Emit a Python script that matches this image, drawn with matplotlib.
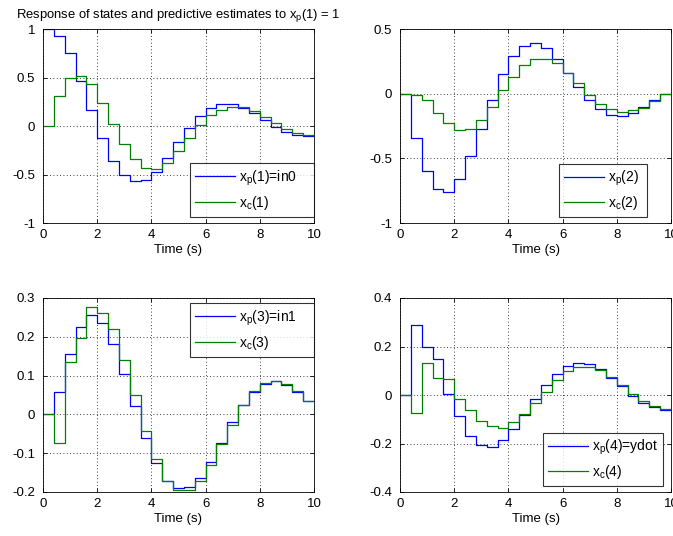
import numpy as np
import matplotlib
matplotlib.use("Agg")
import matplotlib.pyplot as plt
from matplotlib.ticker import FuncFormatter, MultipleLocator

plt.rcParams['font.family'] = ['Liberation Sans', 'DejaVu Sans']
plt.rcParams['mathtext.fontset'] = 'custom'
plt.rcParams['mathtext.rm'] = 'Liberation Sans'
plt.rcParams['mathtext.it'] = 'Liberation Sans'
plt.rcParams['font.size'] = 9.5

t = np.arange(26) * 0.4

xp1 = [1.0, 0.93, 0.75, 0.46, 0.17, -0.12, -0.36, -0.51, -0.57, -0.56, -0.47, -0.33, -0.17,
       -0.02, 0.10, 0.19, 0.23, 0.23, 0.19, 0.13, 0.06, -0.01, -0.06, -0.09, -0.10, -0.10]
xc1 = [0, 0.31, 0.49, 0.52, 0.43, 0.24, 0.02, -0.19, -0.34, -0.43, -0.44, -0.38, -0.26,
       -0.12, 0.01, 0.11, 0.17, 0.20, 0.20, 0.15, 0.09, 0.03, -0.03, -0.07, -0.09, -0.09]
xp2 = [0, -0.34, -0.60, -0.74, -0.76, -0.66, -0.48, -0.27, -0.05, 0.15, 0.29, 0.37, 0.39,
       0.35, 0.27, 0.16, 0.05, -0.05, -0.12, -0.165, -0.175, -0.15, -0.10, -0.05, 0.0, 0.0]
xc2 = [0, -0.01, -0.05, -0.15, -0.23, -0.28, -0.27, -0.20, -0.10, 0.03, 0.13, 0.22, 0.27,
       0.27, 0.235, 0.16, 0.08, -0.01, -0.08, -0.12, -0.14, -0.13, -0.11, -0.06, -0.005, -0.005]
xp3 = [0, 0.057, 0.155, 0.225, 0.255, 0.235, 0.182, 0.105, 0.021, -0.06, -0.124, -0.171, -0.19,
       -0.187, -0.163, -0.122, -0.073, -0.02, 0.023, 0.059, 0.078, 0.085, 0.077, 0.057, 0.035, 0.035]
xc3 = [0, -0.073, 0.136, 0.198, 0.276, 0.261, 0.221, 0.139, 0.051, -0.042, -0.116, -0.171, -0.195,
       -0.195, -0.171, -0.13, -0.077, -0.028, 0.024, 0.06, 0.08, 0.087, 0.078, 0.06, 0.035, 0.035]
xp4 = [0, 0.29, 0.20, 0.15, 0.005, -0.087, -0.17, -0.206, -0.216, -0.186, -0.14, -0.081, -0.017,
       0.041, 0.088, 0.12, 0.133, 0.128, 0.106, 0.071, 0.037, -0.004, -0.033, -0.05, -0.062, -0.062]
xc4 = [0, -0.074, 0.133, 0.071, 0.066, -0.017, -0.062, -0.109, -0.129, -0.137, -0.113, -0.078, -0.034,
       0.014, 0.062, 0.098, 0.115, 0.115, 0.103, 0.074, 0.041, 0.005, -0.026, -0.047, -0.056, -0.056]

labels_p = [r'$\mathregular{x_p}$(1)=in0', r'$\mathregular{x_p}$(2)',
            r'$\mathregular{x_p}$(3)=in1', r'$\mathregular{x_p}$(4)=ydot']
labels_c = [r'$\mathregular{x_c}$(1)', r'$\mathregular{x_c}$(2)',
            r'$\mathregular{x_c}$(3)', r'$\mathregular{x_c}$(4)']
ylims = [(-1, 1), (-1, 0.5), (-0.2, 0.3), (-0.4, 0.4)]
ysteps = [0.5, 0.5, 0.1, 0.2]
title = r'Response of states and predictive estimates to $\mathregular{x_p}$(1) = 1'

W, H = 673, 536
fig = plt.figure(figsize=(W / 100, H / 100), dpi=100)

# axes rectangles in pixels: left, top, right, bottom
rects = [(43, 29, 314, 223), (400, 29, 671, 223), (43, 298, 314, 492), (400, 298, 671, 492)]
legend_boxes = [(190, 163, 314, 217), (559, 164, 647, 217), (190, 303, 314, 357), (543, 433, 663, 486)]

fmt = FuncFormatter(lambda v, p: ('%g' % round(v, 6)))

for i in range(4):
    l, tp, r, b = rects[i]
    ax = fig.add_axes([l / W, 1 - b / H, (r - l) / W, (b - tp) / H])
    ys = [(xp1, xc1), (xp2, xc2), (xp3, xc3), (xp4, xc4)][i]
    ax.step(t, ys[0], where='post', color=(0, 0, 1), lw=0.9, label=labels_p[i])
    ax.step(t, ys[1], where='post', color=(0, 0.5, 0), lw=0.9, label=labels_c[i])
    ax.set_xlim(0, 10)
    ax.set_ylim(*ylims[i])
    ax.xaxis.set_major_locator(MultipleLocator(2))
    ax.yaxis.set_major_locator(MultipleLocator(ysteps[i]))
    ax.xaxis.set_major_formatter(fmt)
    ax.yaxis.set_major_formatter(fmt)
    ax.tick_params(direction='in', top=True, right=True, length=3, width=0.6,
                   labelsize=9.5)
    ax.tick_params(axis='x', pad=4.5)
    ax.tick_params(axis='y', pad=5.5)
    ax.grid(True, color='black', linestyle=(0, (1, 3)), linewidth=0.6)
    for s in ax.spines.values():
        s.set_linewidth(0.6)
    ax.set_xlabel('Time (s)', fontsize=9.5, labelpad=2)
    lx0, ly0, lx1, ly1 = legend_boxes[i]
    bx0 = (lx0 - l) / (r - l)
    by0 = (b - ly1) / (b - tp)
    bw = (lx1 - lx0) / (r - l)
    bh = (ly1 - ly0) / (b - tp)
    leg = ax.legend(loc='center', bbox_to_anchor=(bx0, by0, bw, bh), mode='expand',
                    fontsize=10, frameon=True, fancybox=False, handlelength=2.9,
                    borderaxespad=0, borderpad=0.35, labelspacing=0.45, handletextpad=0.3)
    leg.get_frame().set_edgecolor('black')
    leg.get_frame().set_linewidth(0.8)
    if i == 0:
        ax.set_title(title, fontsize=9.4, pad=8)

fig.savefig('out.png', dpi=100)
